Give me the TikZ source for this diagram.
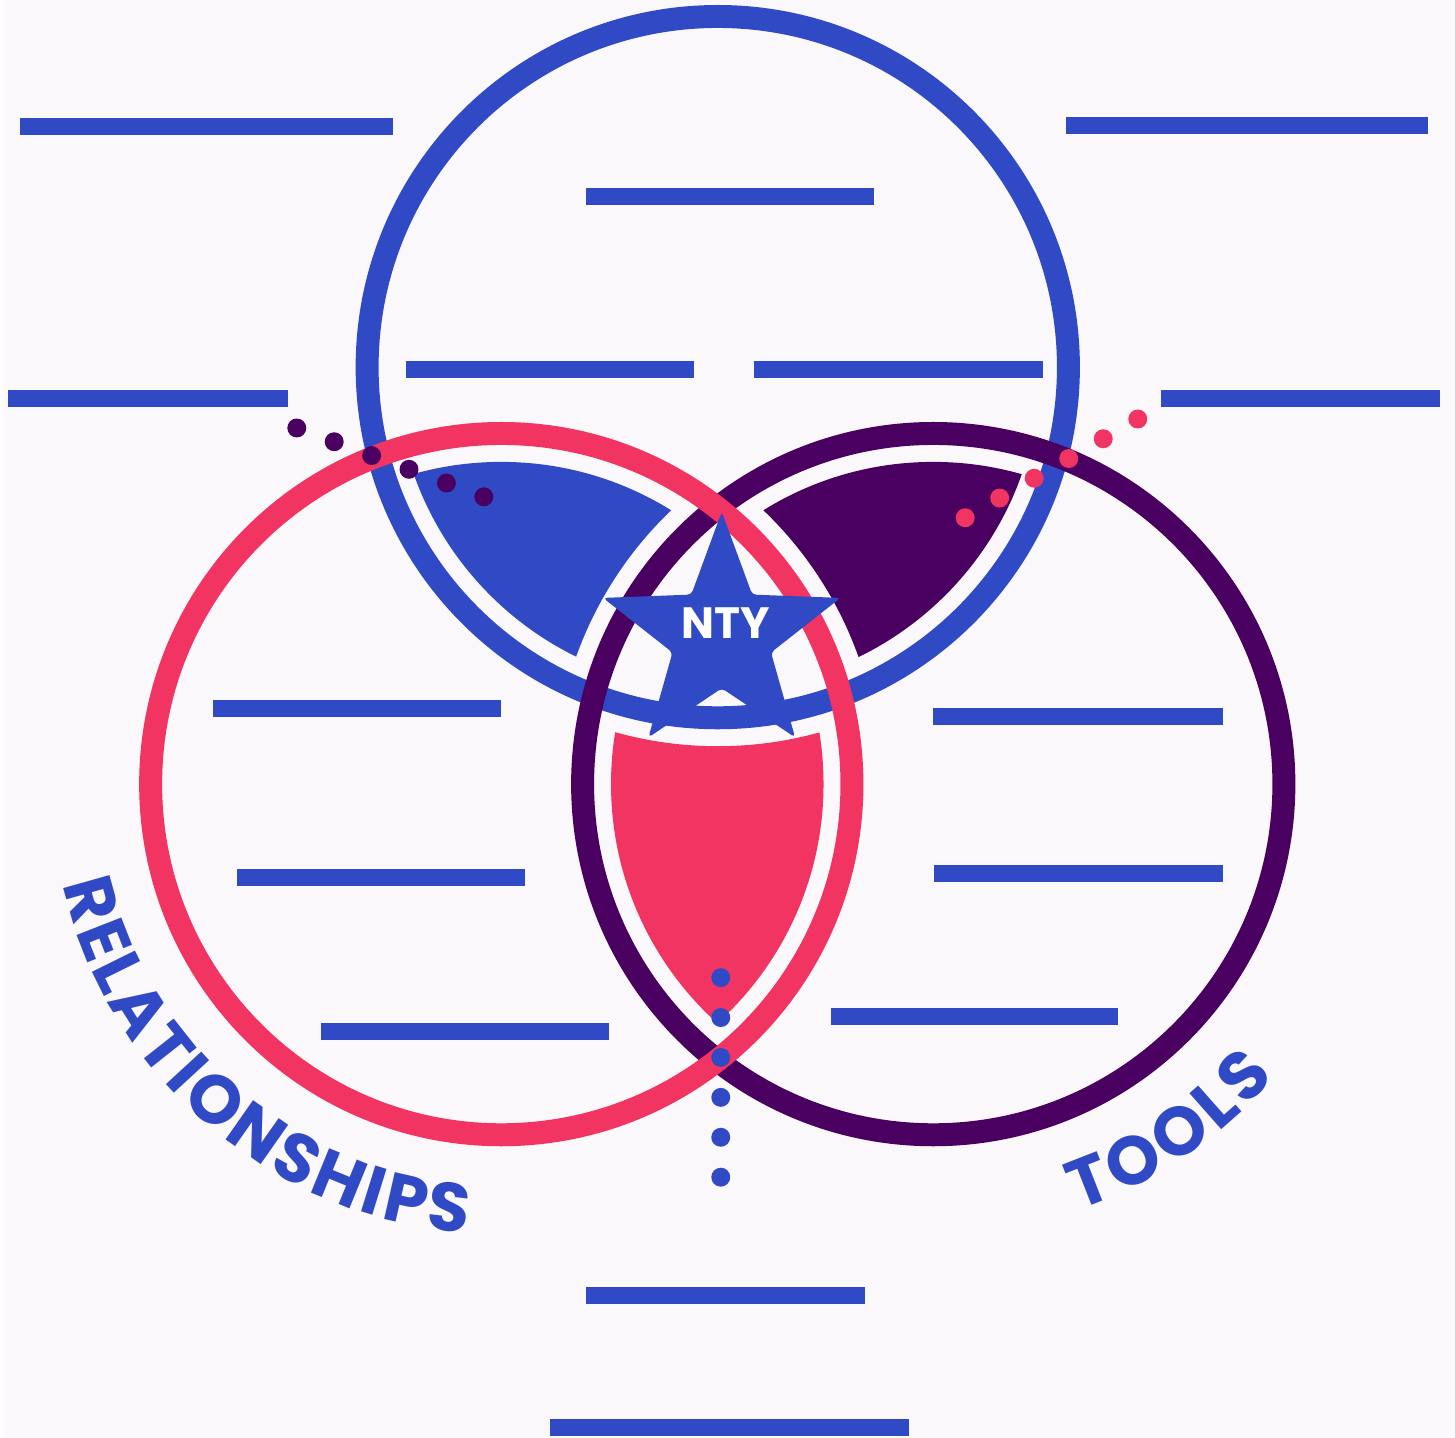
\documentclass[tikz,border=0pt]{standalone}
\usepackage{fontspec}
\newfontfamily\labelfont{Poppins}
\usetikzlibrary{shapes.geometric,decorations.text}
\definecolor{vBg}{HTML}{FAF8FA}
\definecolor{vBlue}{HTML}{304AC6}
\definecolor{vPink}{HTML}{F13461}
\definecolor{vPurple}{HTML}{4A0060}
\begin{document}
\begin{tikzpicture}[
    x=0.01cm,y=-0.01cm,
    ring/.style={line width=0.23cm},
    bar/.style={draw=vBlue, line width=0.17cm},
    dot/.style={fill=#1},
    badge/.style={star, star points=5, star point ratio=2.41, minimum size=2.5cm, inner sep=0pt, fill=vBlue, rounded corners=0.04cm},
    arclabel/.style={decorate, decoration={text along path, text align={fit to path},
        text={|\labelfont\bfseries\fontsize{19.5}{21}\selectfont\color{vBlue}|#1}}}
]
    \fill[vBg] (0,0) rectangle (1455,1441);

    \coordinate (top) at (716,368);
    \coordinate (left) at (499,786);
    \coordinate (right) at (932,786);

    % lenses with a gap to every ring
    \foreach \a/\b/\c/\col in {top/left/right/vBlue, top/right/left/vPurple, left/right/top/vPink} {
        \begin{scope}
            \clip (\a) circle[radius=323];
            \clip (\b) circle[radius=323];
            \fill[\col, even odd rule] (0,0) rectangle (1455,1441) (\c) circle[radius=380];
        \end{scope}
    }

    \draw[ring, vBlue] (top) circle[radius=351.5];
    \draw[ring, vPurple] (right) circle[radius=351.5];
    \draw[ring, vPink] (left) circle[radius=351.5];

    \foreach \xa/\xb/\y in {17/390/126.5, 1065/1428/126, 584/873/197, 403/692/370, 752/1042/370,
        5/285/399, 1160/1440/399, 210/499/710, 932/1222/718, 234/523/880, 933/1222/876,
        318/607/1034, 829/1117/1019, 584/864/1298.5, 548/908/1430.5}
        \draw[bar] (\xa,\y) -- (\xb,\y);

    \foreach \i in {0,...,5} {
        \fill[dot=vPurple] ({294+37.5*\i},{429+13.8*\i}) circle[radius=9.5];
        \fill[dot=vPink] ({1137-34.6*\i},{420+19.8*\i}) circle[radius=9.5];
        \fill[dot=vBlue] (719,{980+40*\i}) circle[radius=9.5];
    }

    \node[badge] (star) at (720,638) {};
    \node[text=white, font=\labelfont\bfseries\fontsize{12.5}{14}\selectfont] (nty) at (724,625) {NTY};

    \path[arclabel=RELATIONSHIPS] (left) ++(167.1:451) arc[start angle=167.1, end angle=94.3, radius=451];
    \path[arclabel=TOOLS] (right) ++(71.2:451) arc[start angle=71.2, end angle=40.5, radius=451];
\end{tikzpicture}
\end{document}
